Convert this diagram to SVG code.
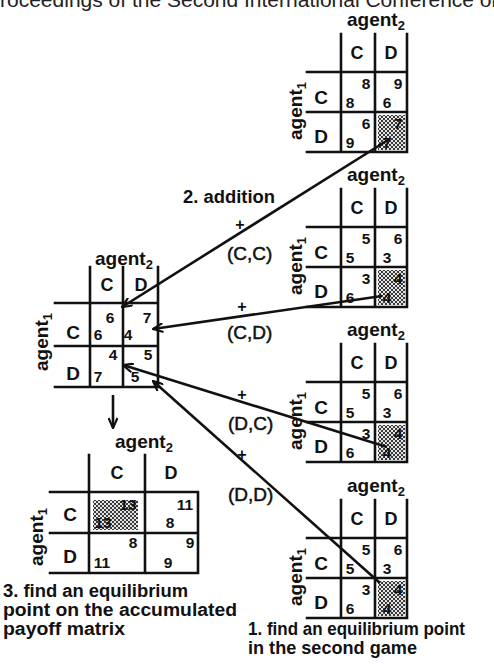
<svg xmlns="http://www.w3.org/2000/svg" width="494" height="669" viewBox="0 0 494 669">
  <defs>
    <style>
      .grid { stroke: #111; stroke-width: 2.6; fill: none; stroke-linecap: square; }
      .conn { stroke: #111; stroke-width: 2.6; fill: none; }
      .hdr { font-family: "Liberation Sans", Arial, sans-serif; font-size: 21px; fill: #222; }
      .agent { font-family: "Liberation Sans", Arial, sans-serif; font-weight: bold; font-size: 19px; fill: #111; }
      .sub { font-size: 13px; }
      .lab { font-family: "Liberation Sans", Arial, sans-serif; font-weight: bold; font-size: 18px; fill: #111; text-anchor: middle; }
      .rowlab { font-size: 19px; }
      .num { font-family: "Liberation Sans", Arial, sans-serif; font-weight: bold; font-size: 15.5px; fill: #111; text-anchor: middle; }
      .step { font-family: "Liberation Sans", Arial, sans-serif; font-weight: bold; font-size: 18px; fill: #111; }
      .pair { font-family: "Liberation Sans", Arial, sans-serif; font-size: 19px; fill: #111; stroke: #111; stroke-width: 0.5; }
      .plus { font-family: "Liberation Sans", Arial, sans-serif; font-weight: bold; font-size: 16px; fill: #111; text-anchor: middle; }
      .shade { fill: url(#stipple); }
    </style>
    <pattern id="stipple" width="4" height="4" patternUnits="userSpaceOnUse">
      <rect width="4" height="4" fill="#e4e4e4"/>
      <rect width="2" height="2" fill="#3a3a3a"/>
      <rect x="2" y="2" width="2" height="2" fill="#3a3a3a"/>
    </pattern>
    <marker id="open" viewBox="0 0 12 10" refX="11" refY="5" markerWidth="12" markerHeight="10" markerUnits="userSpaceOnUse" orient="auto">
      <path d="M1,0.5 L11,5 L1,9.5" fill="none" stroke="#111" stroke-width="2.2"/>
    </marker>
  </defs>

  <rect width="494" height="669" fill="#fff"/>

  <!-- running header, cut at the top edge -->
  <text class="hdr" x="-14" y="7">Proceedings of the Second International Conference on</text>

  <!-- second-game payoff matrices, one per first-game outcome -->
  <g id="game-cc" transform="translate(307,34)">
    <text class="agent" x="40" y="-8">agent<tspan class="sub" dy="4">2</tspan></text>
    <text class="agent" transform="translate(-5,77) rotate(-90)" text-anchor="middle">agent<tspan class="sub" dy="4">1</tspan></text>
    <path class="grid" d="M34,0V118 M68,0V118 M100,0V118 M0,38H100 M0,78H100 M0,118H100"/>
    <text class="lab" x="50" y="25">C</text><text class="lab" x="84" y="25">D</text>
    <text class="lab rowlab" x="14" y="70">C</text><text class="lab rowlab" x="14" y="109">D</text>
    <rect class="shade" x="71" y="81" width="27" height="35"/>
    <text class="num" x="59" y="55">8</text><text class="num" x="43" y="74">8</text>
    <text class="num" x="91" y="55">9</text><text class="num" x="80" y="74">6</text>
    <text class="num" x="59" y="95">6</text><text class="num" x="43" y="114">9</text>
    <text class="num" x="91" y="95">7</text><text class="num" x="80" y="114">7</text>
  </g>

  <g id="game-cd" transform="translate(307,189)">
    <text class="agent" x="40" y="-8">agent<tspan class="sub" dy="4">2</tspan></text>
    <text class="agent" transform="translate(-5,77) rotate(-90)" text-anchor="middle">agent<tspan class="sub" dy="4">1</tspan></text>
    <path class="grid" d="M34,0V118 M68,0V118 M100,0V118 M0,38H100 M0,78H100 M0,118H100"/>
    <text class="lab" x="50" y="25">C</text><text class="lab" x="84" y="25">D</text>
    <text class="lab rowlab" x="14" y="70">C</text><text class="lab rowlab" x="14" y="109">D</text>
    <rect class="shade" x="71" y="81" width="27" height="35"/>
    <text class="num" x="59" y="55">5</text><text class="num" x="43" y="74">5</text>
    <text class="num" x="91" y="55">6</text><text class="num" x="80" y="74">3</text>
    <text class="num" x="59" y="95">3</text><text class="num" x="43" y="114">6</text>
    <text class="num" x="91" y="95">4</text><text class="num" x="80" y="114">4</text>
  </g>

  <g id="game-dc" transform="translate(307,344)">
    <text class="agent" x="40" y="-8">agent<tspan class="sub" dy="4">2</tspan></text>
    <text class="agent" transform="translate(-5,77) rotate(-90)" text-anchor="middle">agent<tspan class="sub" dy="4">1</tspan></text>
    <path class="grid" d="M34,0V118 M68,0V118 M100,0V118 M0,38H100 M0,78H100 M0,118H100"/>
    <text class="lab" x="50" y="25">C</text><text class="lab" x="84" y="25">D</text>
    <text class="lab rowlab" x="14" y="70">C</text><text class="lab rowlab" x="14" y="109">D</text>
    <rect class="shade" x="71" y="81" width="27" height="35"/>
    <text class="num" x="59" y="55">5</text><text class="num" x="43" y="74">5</text>
    <text class="num" x="91" y="55">6</text><text class="num" x="80" y="74">3</text>
    <text class="num" x="59" y="95">3</text><text class="num" x="43" y="114">6</text>
    <text class="num" x="91" y="95">4</text><text class="num" x="80" y="114">4</text>
  </g>

  <g id="game-dd" transform="translate(307,500)">
    <text class="agent" x="40" y="-8">agent<tspan class="sub" dy="4">2</tspan></text>
    <text class="agent" transform="translate(-5,77) rotate(-90)" text-anchor="middle">agent<tspan class="sub" dy="4">1</tspan></text>
    <path class="grid" d="M34,0V118 M68,0V118 M100,0V118 M0,38H100 M0,78H100 M0,118H100"/>
    <text class="lab" x="50" y="25">C</text><text class="lab" x="84" y="25">D</text>
    <text class="lab rowlab" x="14" y="70">C</text><text class="lab rowlab" x="14" y="109">D</text>
    <rect class="shade" x="71" y="81" width="27" height="35"/>
    <text class="num" x="59" y="55">5</text><text class="num" x="43" y="74">5</text>
    <text class="num" x="91" y="55">6</text><text class="num" x="80" y="74">3</text>
    <text class="num" x="59" y="95">3</text><text class="num" x="43" y="114">6</text>
    <text class="num" x="91" y="95">4</text><text class="num" x="80" y="114">4</text>
  </g>

  <!-- first-game payoff matrix -->
  <g id="first-game" transform="translate(55,267)">
    <text class="agent" x="40" y="-2">agent<tspan class="sub" dy="4">2</tspan></text>
    <text class="agent" transform="translate(-7,75) rotate(-90)" text-anchor="middle">agent<tspan class="sub" dy="4">1</tspan></text>
    <path class="grid" d="M35,0V120 M68,0V120 M103,0V120 M0,36H103 M0,79H103 M0,120H103"/>
    <text class="lab" x="52" y="24">C</text><text class="lab" x="86" y="24">D</text>
    <text class="lab rowlab" x="18" y="72">C</text><text class="lab rowlab" x="18" y="113">D</text>
    <text class="num" x="55" y="56">6</text><text class="num" x="43" y="73">6</text>
    <text class="num" x="92" y="56">7</text><text class="num" x="73" y="73">4</text>
    <text class="num" x="58" y="93">4</text><text class="num" x="43" y="115">7</text>
    <text class="num" x="93" y="93">5</text><text class="num" x="80" y="115">5</text>
  </g>

  <!-- accumulated payoff matrix -->
  <g id="accumulated" transform="translate(50,455)">
    <text class="agent" x="65" y="-7">agent<tspan class="sub" dy="4">2</tspan></text>
    <text class="agent" transform="translate(-7,82) rotate(-90)" text-anchor="middle">agent<tspan class="sub" dy="4">1</tspan></text>
    <path class="grid" d="M39,0V118 M95,0V118 M148,37V118 M0,37H148 M0,78H148 M0,118H148"/>
    <text class="lab" x="67" y="24">C</text><text class="lab" x="121" y="24">D</text>
    <text class="lab rowlab" x="20" y="66">C</text><text class="lab rowlab" x="20" y="108">D</text>
    <rect class="shade" x="43" y="45" width="45" height="30"/>
    <text class="num" x="78" y="55">13</text><text class="num" x="53" y="73">13</text>
    <text class="num" x="135" y="55">11</text><text class="num" x="120" y="73">8</text>
    <text class="num" x="83" y="93">8</text><text class="num" x="52" y="113">11</text>
    <text class="num" x="140" y="93">9</text><text class="num" x="118" y="113">9</text>
  </g>

  <!-- connectors: outcome payoffs added into the first game, then accumulated -->
  <g id="connectors">
    <line class="conn" x1="388" y1="140" x2="122" y2="307" marker-end="url(#open)"/>
    <line class="conn" x1="382" y1="296" x2="153" y2="329" marker-end="url(#open)"/>
    <line class="conn" x1="387" y1="447" x2="123" y2="365" marker-end="url(#open)"/>
    <line class="conn" x1="380" y1="583" x2="153" y2="381" marker-end="url(#open)"/>
    <line class="conn" x1="113" y1="395" x2="113" y2="428" marker-end="url(#open)"/>
  </g>

  <g id="labels">
    <text class="step" x="183" y="203" textLength="92" lengthAdjust="spacingAndGlyphs">2. addition</text>
    <text class="plus" x="240" y="230">+</text>
    <text class="pair" x="227" y="260">(C,C)</text>
    <text class="plus" x="242" y="312">+</text>
    <text class="pair" x="227" y="339">(C,D)</text>
    <text class="plus" x="242" y="400">+</text>
    <text class="pair" x="228" y="430">(D,C)</text>
    <text class="plus" x="242" y="460">+</text>
    <text class="pair" x="228" y="501">(D,D)</text>
    <text class="step" x="3" y="597" textLength="185" lengthAdjust="spacingAndGlyphs">3. find an equilibrium</text>
    <text class="step" x="3" y="616" textLength="234" lengthAdjust="spacingAndGlyphs">point on the accumulated</text>
    <text class="step" x="3" y="635" textLength="122" lengthAdjust="spacingAndGlyphs">payoff matrix</text>
    <text class="step" x="248" y="635" textLength="217" lengthAdjust="spacingAndGlyphs">1. find an equilibrium point</text>
    <text class="step" x="248" y="654" textLength="169" lengthAdjust="spacingAndGlyphs">in the second game</text>
  </g>
</svg>
